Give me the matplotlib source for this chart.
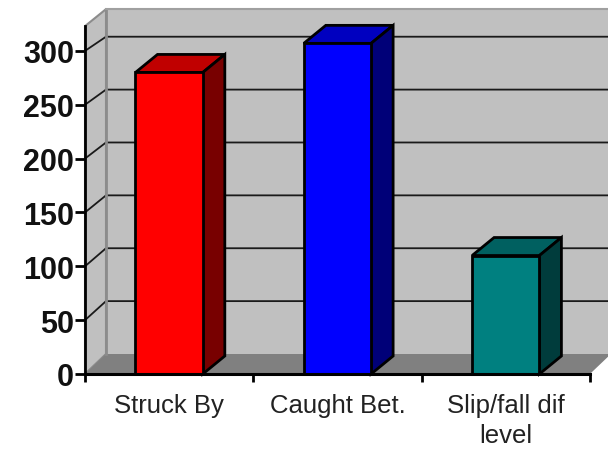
"""Excel-style 3D column chart, faked with polygons on a full-figure axes."""
import matplotlib
matplotlib.use("Agg")
import matplotlib.pyplot as plt
from matplotlib.patches import Polygon
import numpy as np

plt.rcParams["font.family"] = ["Liberation Sans", "DejaVu Sans"]

categories = ["Struck By", "Caught Bet.", "Slip/fall dif\nlevel"]
values = [280, 307, 110]
y_ticks = [0, 50, 100, 150, 200, 250, 300]
front_colors = ["#ff0000", "#0000ff", "#008080"]
top_colors = ["#c00000", "#0000c0", "#006060"]
side_colors = ["#780000", "#000078", "#003c3c"]

# pixel calibration: x=0 sits at px 85 and one category is 168.3 px,
# y=0 sits at px 375 and one unit is 1.077 px
PX_X = 168.3
PX_Y = 1.077
DX = 21 / PX_X       # depth of the wall, data units
DY = 19 / PX_Y
BAR_DX = 22 / PX_X   # depth of a column
BAR_DY = 18 / PX_Y
BAR_W = 0.4
AXIS_TOP = 323
WALL_TOP = 323 + 17 / PX_Y
BACK_SHRINK = 0.982  # back wall scale is slightly smaller than the front


def back_y(v):
    return (20 / PX_Y) + v * BACK_SHRINK


fig = plt.figure(figsize=(6.08, 4.52), dpi=100)
ax = fig.add_axes([0, 0, 1, 1])
ax.set_xlim(-85 / PX_X, (608 - 85) / PX_X)
ax.set_ylim(-(452 - 375) / PX_Y, 375 / PX_Y)
ax.patch.set_visible(False)

n = len(categories)

# walls and floor
ax.add_patch(Polygon([(DX, back_y(0)), (n + 1, back_y(0)), (n + 1, WALL_TOP), (DX, WALL_TOP)],
                     fc="#c0c0c0", ec="none", zorder=1))
ax.add_patch(Polygon([(0, 0), (DX, back_y(0)), (DX, WALL_TOP), (0, AXIS_TOP)],
                     fc="#c0c0c0", ec="#8c8c8c", lw=1.5, zorder=1))
ax.add_patch(Polygon([(0, 0), (DX, back_y(0)), (n + DX, back_y(0)), (n, 0)],
                     fc="#808080", ec="none", zorder=2))
ax.plot([DX, DX], [back_y(0), WALL_TOP], color="#8c8c8c", lw=2, zorder=3)
ax.plot([DX, n + 1], [WALL_TOP, WALL_TOP], color="#a0a0a0", lw=1.5, zorder=3)

# gridlines: across the back wall, then down the side wall to the ticks
for v in y_ticks[1:]:
    ax.plot([0, DX, n + 1], [v, back_y(v), back_y(v)], color="#1a1a1a", lw=1.3, zorder=2)

# columns
x_pos = np.arange(n) + 0.5
ax.bar(x_pos, values, width=BAR_W, color=front_colors, edgecolor="black", linewidth=2, zorder=6)
for x, v, tc, sc in zip(x_pos, values, top_colors, side_colors):
    r = x + BAR_W / 2
    l = x - BAR_W / 2
    ax.add_patch(Polygon([(l, v), (l + BAR_DX, v + BAR_DY), (r + BAR_DX, v + BAR_DY), (r, v)],
                         fc=tc, ec="black", lw=2, zorder=5))
    ax.add_patch(Polygon([(r, 0), (r + BAR_DX, BAR_DY), (r + BAR_DX, v + BAR_DY), (r, v)],
                         fc=sc, ec="black", lw=2, zorder=5))

# axes
for s in ("top", "right"):
    ax.spines[s].set_visible(False)
ax.spines["left"].set_position(("data", 0))
ax.spines["bottom"].set_position(("data", 0))
ax.spines["left"].set_bounds(0, AXIS_TOP)
ax.spines["bottom"].set_bounds(0, n)
ax.spines["left"].set_linewidth(2)
ax.spines["bottom"].set_linewidth(2.2)
ax.spines["left"].set_zorder(7)
ax.spines["bottom"].set_zorder(7)

ax.set_yticks(y_ticks)
ax.tick_params(axis="y", length=7, width=2, pad=1, labelsize=22)
for lab in ax.get_yticklabels():
    lab.set_fontweight("bold")
    lab.set_color("#111111")

ax.set_xticks(np.arange(n + 1))
ax.set_xticklabels([])
ax.set_xticks(x_pos, minor=True)
ax.set_xticklabels(categories, minor=True, fontsize=18.5, color="#222222", linespacing=1.3)
ax.tick_params(axis="x", which="major", length=6, width=2)
ax.tick_params(axis="x", which="minor", length=0, pad=14)

fig.savefig("out.png", dpi=100)
